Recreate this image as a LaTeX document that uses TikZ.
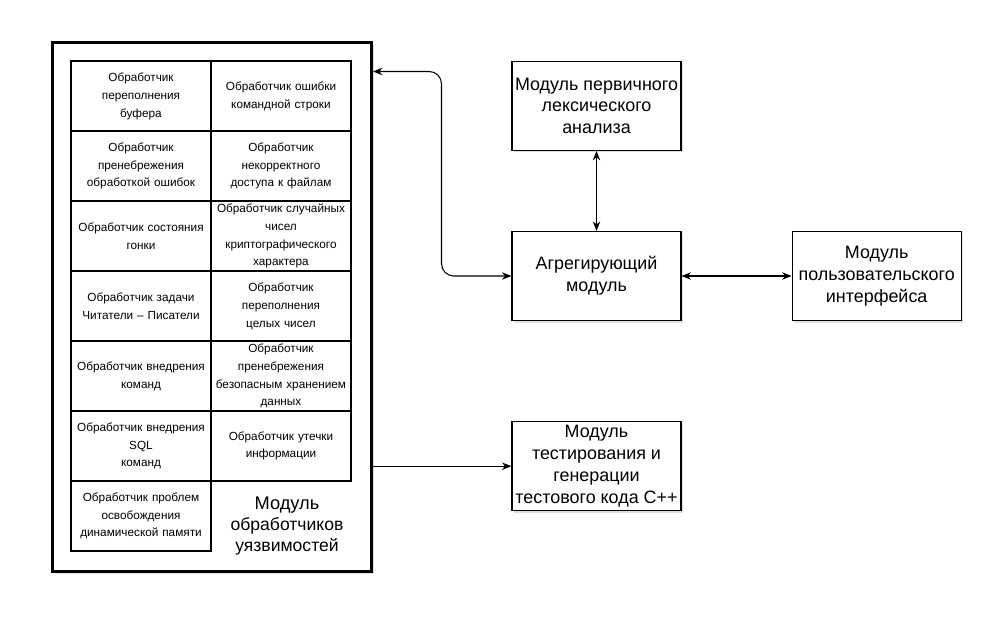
\documentclass[tikz,border=0pt]{standalone}
\usepackage{fontspec}
\setmainfont{Liberation Sans}
\usetikzlibrary{arrows.meta, positioning, shadows}

\begin{document}
\begin{tikzpicture}[x=0.02cm, y=-0.02cm, thick,
    >={Stealth[length=1.9mm, width=1.5mm]},
    every node/.style={align=center},
    cell/.style={draw, line width=1.1pt, minimum width=2.8cm, minimum height=1.4cm,
        text width=2.7cm, outer sep=0pt, inner sep=0.05cm, font=\fontsize{6.7}{10.2}\selectfont},
    module/.style={draw, line width=0.7pt, minimum width=3.38cm, minimum height=1.78cm,
        inner sep=1pt, fill=white, drop shadow={opacity=0.25, shadow xshift=1.2pt, shadow yshift=-1.2pt},
        font=\fontsize{10.2}{12.4}\selectfont},
    link/.style={line width=0.6pt}]

    \useasboundingbox (0,0) rectangle (1007,631);

    % Outer module
    \node (vuln) [draw, line width=1.7pt, minimum width=6.38cm, minimum height=10.58cm,
        fill=white, drop shadow={opacity=0.25, shadow xshift=1.2pt, shadow yshift=-1.2pt}] at (212,307) {};
    \node (vulnlabel) at (287,526) {\fontsize{10.4}{12}\selectfont Модуль\\обработчиков\\уязвимостей};

    % Handlers
    \node (buf) [cell] at (141,96) {Обработчик\\переполнения\\буфера};
    \node (cmd) [cell, right=0pt of buf] {Обработчик ошибки\\командной строки};
    \node (err) [cell, below=0pt of buf] {Обработчик\\пренебрежения\\обработкой ошибок};
    \node (file) [cell, below=0pt of cmd] {Обработчик\\некорректного\\доступа к файлам};
    \node (race) [cell, below=0pt of err] {Обработчик состояния\\гонки};
    \node (rand) [cell, below=0pt of file] {Обработчик случайных\\чисел\\криптографического\\характера};
    \node (rw) [cell, below=0pt of race] {Обработчик задачи\\Читатели – Писатели};
    \node (int) [cell, below=0pt of rand] {Обработчик\\переполнения\\целых чисел};
    \node (inj) [cell, below=0pt of rw] {Обработчик внедрения\\команд};
    \node (store) [cell, below=0pt of int] {Обработчик\\пренебрежения\\безопасным хранением\\данных};
    \node (sql) [cell, below=0pt of inj] {Обработчик внедрения\\SQL\\команд};
    \node (leak) [cell, below=0pt of store] {Обработчик утечки\\информации};
    \node (mem) [cell, below=0pt of sql] {Обработчик проблем\\освобождения\\динамической памяти};

    % Modules
    \node (agg) [module] at (596.5,276) {Агрегирующий\\модуль};
    \node (lex) [module, above=1.6cm of agg] {Модуль первичного\\лексического\\анализа};
    \node (ui) [module, right=2.2cm of agg] {Модуль\\пользовательского\\интерфейса};
    \node (test) [module, below=2cm of agg] {Модуль\\тестирования и\\генерации\\тестового кода C++};

    % Edges
    \coordinate (turn) at (441.5,71.5);
    \draw[link, <->, rounded corners=7pt] (vuln.east |- turn) -- (turn) |- (agg.west);
    \draw[link, <->] (lex) -- (agg);
    \draw[link, <->] (agg) -- (ui);
    \draw[link, ->] (vuln.east |- test.west) -- (test.west);

\end{tikzpicture}
\end{document}
